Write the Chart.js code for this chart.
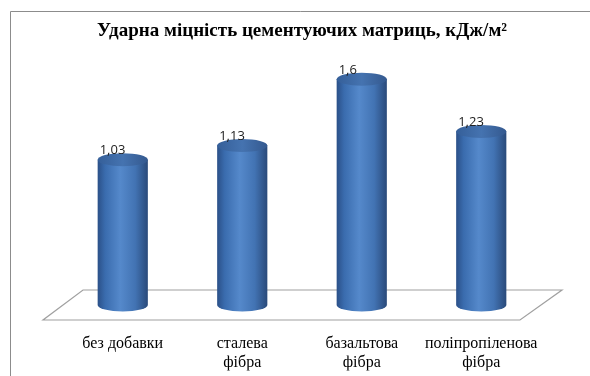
<!DOCTYPE html>
<html>
<head>
<meta charset="utf-8">
<script src="https://cdn.jsdelivr.net/npm/chart.js@4"></script>
<style>
  html, body { margin: 0; padding: 0; background: #fff; }
  #wrap { width: 590px; height: 376px; }
</style>
</head>
<body>
<div id="wrap"><canvas id="chart" width="590" height="376"></canvas></div>
<script>
const categories = [['без добавки'], ['сталева', 'фібра'], ['базальтова', 'фібра'], ['поліпропіленова', 'фібра']];
const strength = [1.03, 1.13, 1.6, 1.23];
const valueLabels = ['1,03', '1,13', '1,6', '1,23'];

// frame and 3D floor behind the bars
const backdrop = {
  id: 'backdrop',
  beforeDraw(chart) {
    const ctx = chart.ctx;
    ctx.save();
    ctx.fillStyle = '#fff';
    ctx.fillRect(0, 0, chart.width, chart.height);
    ctx.strokeStyle = '#8c8c8c';
    ctx.lineWidth = 1;
    ctx.beginPath();
    ctx.moveTo(10.5, chart.height);
    ctx.lineTo(10.5, 11.5);
    ctx.lineTo(chart.width, 11.5);
    ctx.stroke();
    ctx.restore();
  },
  beforeDatasetsDraw(chart) {
    const ctx = chart.ctx;
    const area = chart.chartArea;
    const y0 = chart.scales.y.getPixelForValue(0);
    ctx.save();
    ctx.strokeStyle = '#a0a0a0';
    ctx.lineWidth = 1.2;
    ctx.beginPath();
    ctx.moveTo(area.left + 20, y0 - 15);
    ctx.lineTo(area.right + 21, y0 - 15);
    ctx.lineTo(area.right - 21, y0 + 15);
    ctx.lineTo(area.left - 20, y0 + 15);
    ctx.closePath();
    ctx.stroke();
    ctx.restore();
  }
};

// draws each bar as a cylinder using the bar element geometry
const cylinders = {
  id: 'cylinders',
  afterDatasetsDraw(chart) {
    const ctx = chart.ctx;
    const meta = chart.getDatasetMeta(0);
    meta.data.forEach((bar, i) => {
      const w = bar.width;
      const left = bar.x - w / 2;
      const right = bar.x + w / 2;
      const ry = 6.5;
      const grad = ctx.createLinearGradient(left, 0, right, 0);
      grad.addColorStop(0, '#2b5088');
      grad.addColorStop(0.15, '#3a6cae');
      grad.addColorStop(0.45, '#5589cb');
      grad.addColorStop(0.75, '#4273b3');
      grad.addColorStop(1, '#2a4a7a');
      ctx.save();
      ctx.fillStyle = grad;
      ctx.beginPath();
      ctx.moveTo(left, bar.y);
      ctx.lineTo(left, bar.base);
      ctx.ellipse(bar.x, bar.base, w / 2, ry, 0, Math.PI, 0, true);
      ctx.lineTo(right, bar.y);
      ctx.closePath();
      ctx.fill();
      const top = ctx.createLinearGradient(left, 0, right, 0);
      top.addColorStop(0, '#355f99');
      top.addColorStop(0.5, '#4573b0');
      top.addColorStop(1, '#34598f');
      ctx.fillStyle = top;
      ctx.beginPath();
      ctx.ellipse(bar.x, bar.y, w / 2, ry, 0, 0, Math.PI * 2);
      ctx.fill();
      ctx.fillStyle = '#222';
      ctx.font = '13px "Open Sans"';
      ctx.textAlign = 'left';
      ctx.textBaseline = 'middle';
      ctx.fillText(valueLabels[i], left + 2, bar.y - 9);
      ctx.restore();
    });
  }
};

new Chart(document.getElementById('chart'), {
  type: 'bar',
  data: {
    labels: categories,
    datasets: [{
      data: strength,
      backgroundColor: 'rgba(0,0,0,0)',
      barPercentage: 0.42,
      categoryPercentage: 1
    }]
  },
  options: {
    responsive: false,
    animation: false,
    layout: { padding: { left: 63, right: 49, top: 0, bottom: 5.6 } },
    plugins: {
      legend: { display: false },
      tooltip: { enabled: false },
      title: {
        display: true,
        text: 'Ударна міцність цементуючих матриць, кДж/м²',
        color: '#000',
        font: { family: '"Liberation Serif"', size: 19, weight: 'bold' },
        padding: { top: 20, bottom: 11 }
      }
    },
    scales: {
      x: {
        grid: { display: false },
        border: { display: false },
        afterFit(scale) { scale.height = 65.4; },
        ticks: {
          color: '#000',
          padding: 21,
          maxRotation: 0,
          font: { family: '"Liberation Serif"', size: 16 }
        }
      },
      y: {
        display: false,
        min: 0,
        max: 1.78
      }
    }
  },
  plugins: [backdrop, cylinders]
});
</script>
</body>
</html>
